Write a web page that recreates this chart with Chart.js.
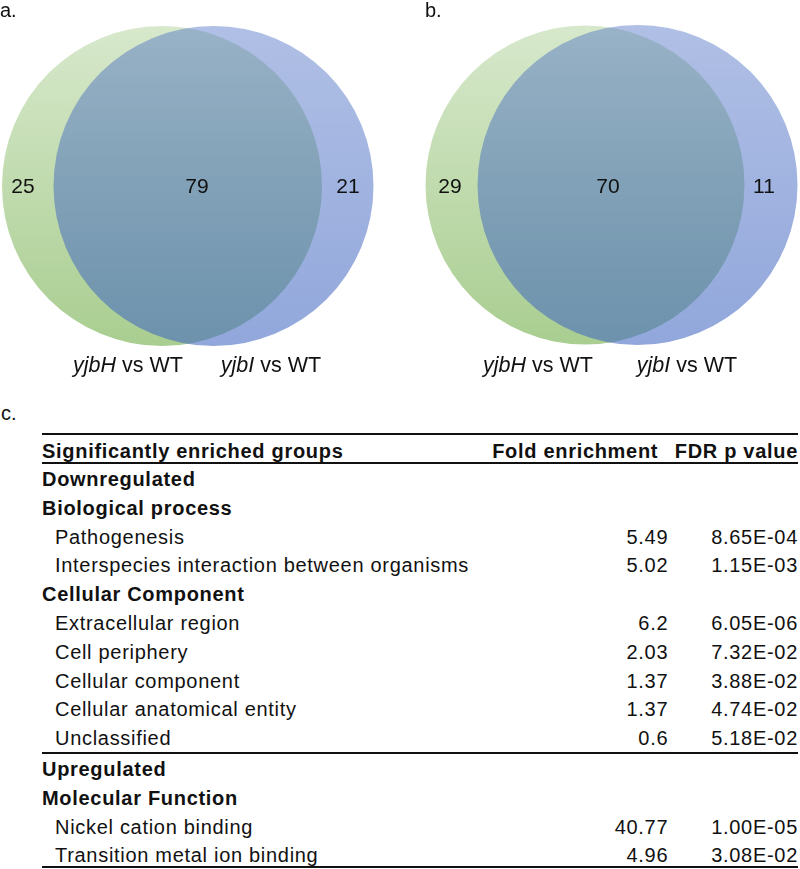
<!DOCTYPE html>
<html>
<head>
<meta charset="utf-8">
<script src="https://cdn.jsdelivr.net/npm/chart.js@4"></script>
<style>
  body { margin: 0; background: #fff; font-family: 'Liberation Sans', Arial, sans-serif; color: #111; }
  #page { position: relative; width: 800px; height: 869px; overflow: hidden; }
  #venns { position: absolute; left: 0; top: 0; width: 800px; height: 400px; }
  #clabel { position: absolute; left: 1px; top: 402px; font-size: 20px; }
  #tbl { position: absolute; left: 42px; top: 433px; width: 756px; border-collapse: collapse; font-size: 20px; letter-spacing: 0.7px; }
  #tbl td { padding: 3px 0 0 0; height: 25.8px; line-height: 25.8px; white-space: nowrap; box-sizing: content-box; }
  #tbl tr.head td { font-weight: bold; border-top: 2px solid #111; border-bottom: 2px solid #111; padding-top: 5px; height: 22px; line-height: 22px; }
  #tbl tr.section td { font-weight: bold; }
  #tbl tr.item td:first-child { padding-left: 13px; }
  #tbl tr.endblock td { border-bottom: 2px solid #111; }
  #tbl tr.last td { padding-top: 4px; height: 21px; line-height: 22px; }
  #tbl td.num { text-align: right; }
</style>
</head>
<body>
<div id="page">
  <div id="venns"><canvas id="vennChart"></canvas></div>
  <div id="clabel">c.</div>
  <table id="tbl"></table>
</div>
<script>
// Venn counts (panel a, panel b)
const vennPanels = ['a.', 'b.'];
const leftOnly = [25, 29];
const bothSets = [79, 70];
const rightOnly = [21, 11];
const setNames = ['yjbH', 'yjbI'];

// Table data
const rowLabels = ['Downregulated', 'Biological process', 'Pathogenesis', 'Interspecies interaction between organisms',
  'Cellular Component', 'Extracellular region', 'Cell periphery', 'Cellular component', 'Cellular anatomical entity',
  'Unclassified', 'Upregulated', 'Molecular Function', 'Nickel cation binding', 'Transition metal ion binding'];
const rowKinds = ['section', 'section', 'item', 'item', 'section', 'item', 'item', 'item', 'item',
  'item', 'section', 'section', 'item', 'item'];
const foldEnrichment = [null, null, 5.49, 5.02, null, 6.2, 2.03, 1.37, 1.37, 0.6, null, null, 40.77, 4.96];
const fdrValues = [null, null, '8.65E-04', '1.15E-03', null, '6.05E-06', '7.32E-02', '3.88E-02', '4.74E-02',
  '5.18E-02', null, null, '1.00E-05', '3.08E-02'];
const tableHeaders = ['Significantly enriched groups', 'Fold enrichment', 'FDR p value'];

// layout of the circles (page pixels = scale units)
const circleLayout = [
  { panel: 0, set: 0, cx: 162, cy: 186, r: 160 },
  { panel: 0, set: 1, cx: 213.5, cy: 186, r: 160 },
  { panel: 1, set: 0, cx: 585, cy: 185, r: 159.5 },
  { panel: 1, set: 1, cx: 637.5, cy: 185, r: 160 }
];
const countX = [[23, 197, 348], [450, 608, 764]];
const labelX = [[128, 271], [538, 687]];
const panelX = [0, 425];

const setColors = [
  { rgb: '112,173,71', top: 0.28, bottom: 0.6 },
  { rgb: '66,103,193', top: 0.42, bottom: 0.58 }
];

function gradientFor(c, circle) {
  const chart = c.chart;
  if (!chart.chartArea) return 'rgba(0,0,0,0)';
  const y = chart.scales.y;
  const col = setColors[circle.set];
  const g = chart.ctx.createLinearGradient(0, y.getPixelForValue(circle.cy - circle.r), 0, y.getPixelForValue(circle.cy + circle.r));
  g.addColorStop(0, 'rgba(' + col.rgb + ',' + col.top + ')');
  g.addColorStop(1, 'rgba(' + col.rgb + ',' + col.bottom + ')');
  return g;
}

const datasets = circleLayout.map(circle => ({
  data: [{ x: circle.cx, y: circle.cy }],
  order: circle.set === 1 ? 0 : 1,
  showLine: false,
  pointBorderWidth: 0,
  pointBackgroundColor: c => gradientFor(c, circle),
  pointRadius: c => {
    const x = c.chart.scales.x;
    if (!x || !c.chart.chartArea) return 0;
    return x.getPixelForValue(circle.r) - x.getPixelForValue(0);
  }
}));

const FONT = "'Liberation Sans', Arial, sans-serif";

const vennText = {
  id: 'vennText',
  afterDatasetsDraw(chart) {
    const ctx = chart.ctx;
    const xs = chart.scales.x, ys = chart.scales.y;
    ctx.save();
    ctx.fillStyle = '#111';
    ctx.textBaseline = 'middle';
    vennPanels.forEach((p, i) => {
      ctx.font = '20px ' + FONT;
      ctx.textAlign = 'left';
      ctx.fillText(p, xs.getPixelForValue(panelX[i]), ys.getPixelForValue(11));
      ctx.font = '21px ' + FONT;
      ctx.textAlign = 'center';
      const counts = [leftOnly[i], bothSets[i], rightOnly[i]];
      counts.forEach((v, k) => {
        ctx.fillText(String(v), xs.getPixelForValue(countX[i][k]), ys.getPixelForValue(187));
      });
      // set labels: italic gene name + " vs WT"
      ctx.textAlign = 'left';
      ctx.textBaseline = 'alphabetic';
      setNames.forEach((name, k) => {
        ctx.font = 'italic 21.5px ' + FONT;
        const w1 = ctx.measureText(name).width;
        ctx.font = '21.5px ' + FONT;
        const w2 = ctx.measureText(' vs WT').width;
        const x0 = xs.getPixelForValue(labelX[i][k]) - (w1 + w2) / 2;
        const yb = ys.getPixelForValue(372);
        ctx.font = 'italic 21.5px ' + FONT;
        ctx.fillText(name, x0, yb);
        ctx.font = '21.5px ' + FONT;
        ctx.fillText(' vs WT', x0 + w1, yb);
      });
      ctx.textBaseline = 'middle';
    });
    ctx.restore();
  }
};

new Chart(document.getElementById('vennChart'), {
  type: 'scatter',
  data: { datasets: datasets },
  options: {
    responsive: true,
    maintainAspectRatio: false,
    animation: false,
    events: [],
    layout: { padding: 0 },
    plugins: { legend: { display: false }, tooltip: { enabled: false } },
    scales: {
      x: { type: 'linear', min: 0, max: 800, display: false },
      y: { type: 'linear', min: 0, max: 400, reverse: true, display: false }
    }
  },
  plugins: [vennText]
});

// build the table
const tbl = document.getElementById('tbl');
let html = '<tr class="head"><td>' + tableHeaders[0] + '</td><td class="num" style="width:190px;padding-right:10px">' +
  tableHeaders[1] + '</td><td class="num" style="width:130px">' + tableHeaders[2] + '</td></tr>';
rowLabels.forEach((label, i) => {
  let cls = rowKinds[i];
  if (label === 'Unclassified') cls += ' endblock';
  if (i === rowLabels.length - 1) cls += ' endblock last';
  html += '<tr class="' + cls + '"><td>' + label + '</td><td class="num">' +
    (foldEnrichment[i] === null ? '' : foldEnrichment[i]) + '</td><td class="num">' +
    (fdrValues[i] === null ? '' : fdrValues[i]) + '</td></tr>';
});
tbl.innerHTML = html;
</script>
</body>
</html>
